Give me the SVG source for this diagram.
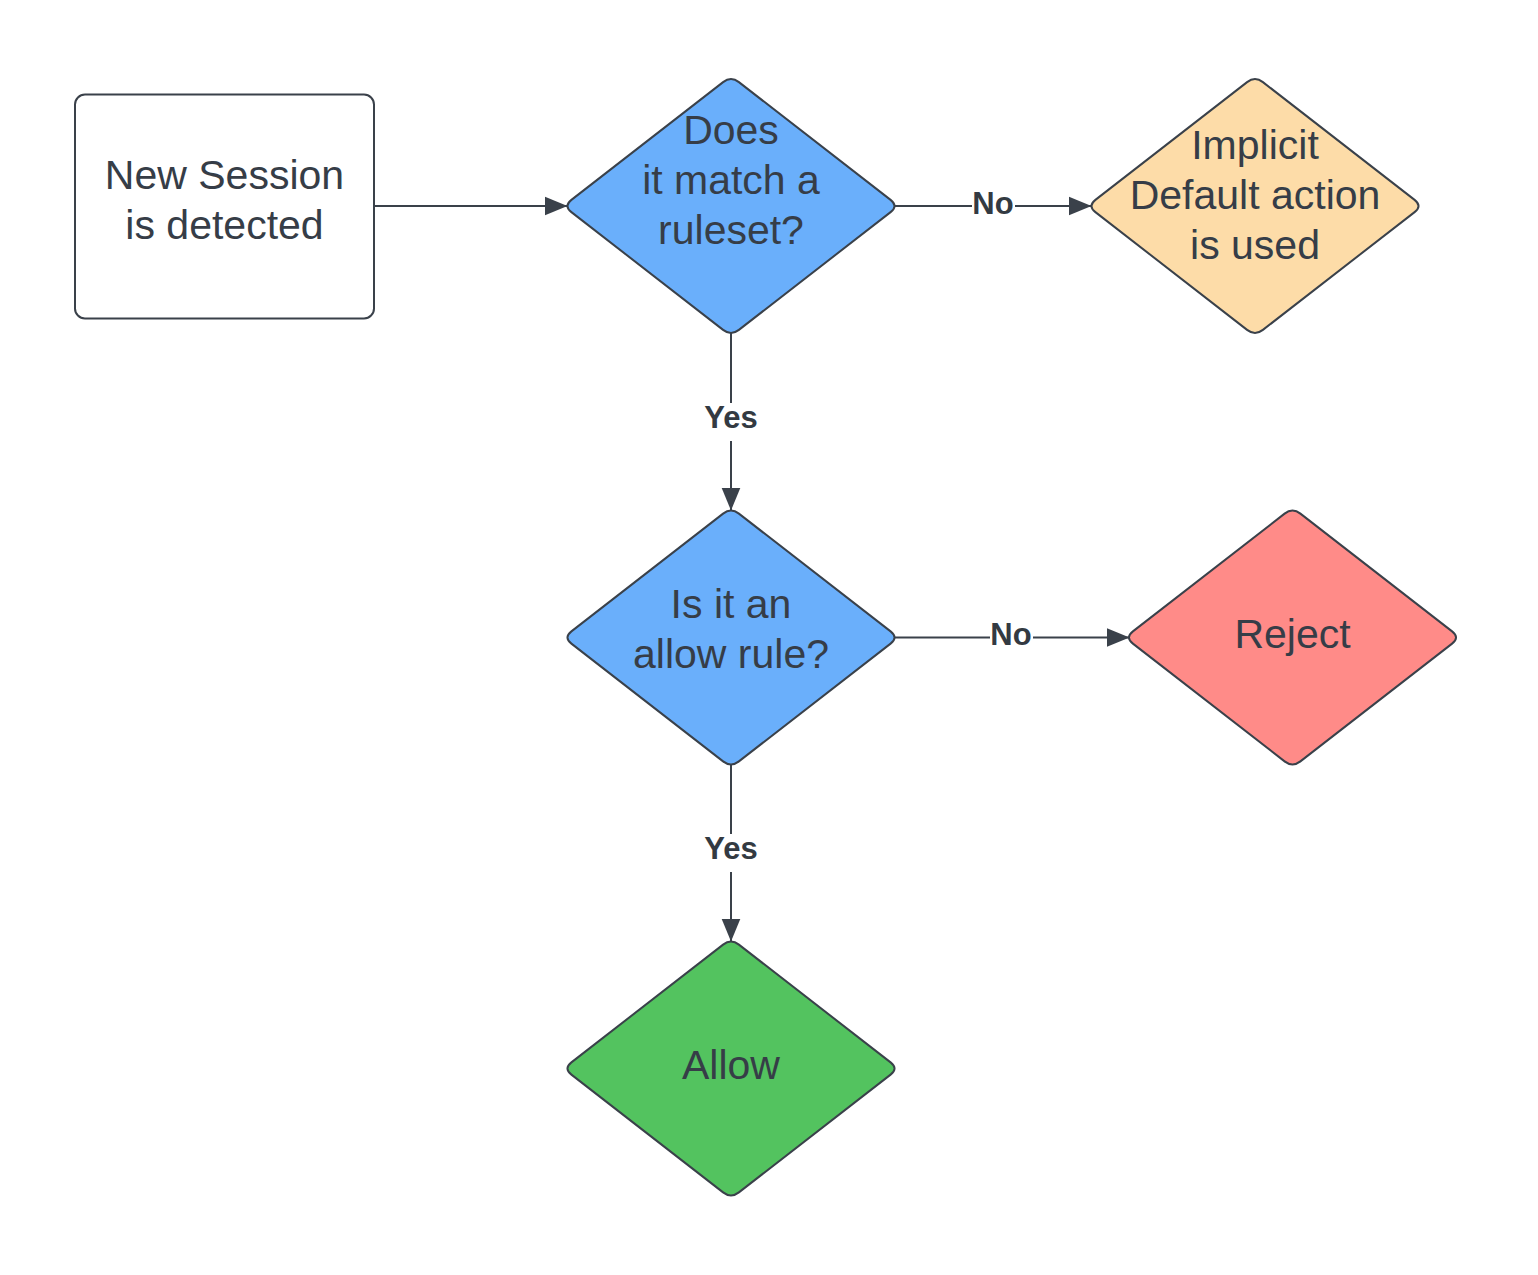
<svg xmlns="http://www.w3.org/2000/svg" width="1538" height="1275" viewBox="0 0 1538 1275">
<style>
.shape{stroke:#3a414a;stroke-width:2}
.t{font-family:"Liberation Sans",Arial,sans-serif;font-size:41px;fill:#363d47;text-anchor:middle}
.lbl{font-family:"Liberation Sans",Arial,sans-serif;font-size:31px;font-weight:bold;fill:#333a42;text-anchor:middle}
.edge{stroke:#3a414a;stroke-width:2;fill:none}
</style>
<defs>
<path id="dia" d="M -7.9,-123.87 Q 0,-130 7.9,-123.87 L 159.6,-6.13 Q 167.5,0 159.6,6.13 L 7.9,123.87 Q 0,130 -7.9,123.87 L -159.6,6.13 Q -167.5,0 -159.6,-6.13 Z"/>
<marker id="arr" markerUnits="userSpaceOnUse" markerWidth="24" markerHeight="22" refX="23" refY="11" orient="auto" viewBox="0 0 24 22">
<path d="M0,1.5 L23,11 L0,20.5 Z" fill="#3a414a"/>
</marker>
</defs>
<rect width="1538" height="1275" fill="#ffffff"/>
<g id="connectors">
<path class="edge" d="M374,206 H567.5" stroke-width="1.3" marker-end="url(#arr)"/>
<path class="edge" d="M894.5,206 H1091.5" marker-end="url(#arr)"/>
<path class="edge" d="M731,333 V510.5" marker-end="url(#arr)"/>
<path class="edge" d="M894.5,637.5 H1129.5" marker-end="url(#arr)"/>
<path class="edge" d="M731,765 V941.5" marker-end="url(#arr)"/>
<rect x="972" y="190" width="43" height="28" fill="#ffffff"/>
<text class="lbl" x="993" y="214">No</text>
<rect x="990" y="621" width="43" height="28" fill="#ffffff"/>
<text class="lbl" x="1011" y="645">No</text>
<rect x="699" y="403" width="64" height="38" fill="#ffffff"/>
<text class="lbl" x="731" y="428">Yes</text>
<rect x="699" y="834" width="64" height="38" fill="#ffffff"/>
<text class="lbl" x="731" y="859">Yes</text>
</g>
<g id="start">
<rect class="shape" x="75" y="94.5" width="299" height="224" rx="10" fill="#ffffff"/>
<text class="t" x="224.5" y="189">New Session</text>
<text class="t" x="224.5" y="239">is detected</text>
</g>
<g id="match">
<use href="#dia" x="731" y="206" class="shape" fill="#6aaffb"/>
<text class="t" x="731" y="144">Does</text>
<text class="t" x="731" y="194">it match a</text>
<text class="t" x="731" y="244">ruleset?</text>
</g>
<g id="implicit">
<use href="#dia" x="1255" y="206" class="shape" fill="#fddca8"/>
<text class="t" x="1255" y="159">Implicit</text>
<text class="t" x="1255" y="209">Default action</text>
<text class="t" x="1255" y="259">is used</text>
</g>
<g id="allowrule">
<use href="#dia" x="731" y="637.5" class="shape" fill="#6aaffb"/>
<text class="t" x="731" y="618">Is it an</text>
<text class="t" x="731" y="668">allow rule?</text>
</g>
<g id="reject">
<use href="#dia" x="1292.5" y="637.5" class="shape" fill="#ff8b88"/>
<text class="t" x="1292.5" y="648">Reject</text>
</g>
<g id="allow">
<use href="#dia" x="731" y="1068.5" class="shape" fill="#53c35f"/>
<text class="t" x="731" y="1079">Allow</text>
</g>
</svg>
